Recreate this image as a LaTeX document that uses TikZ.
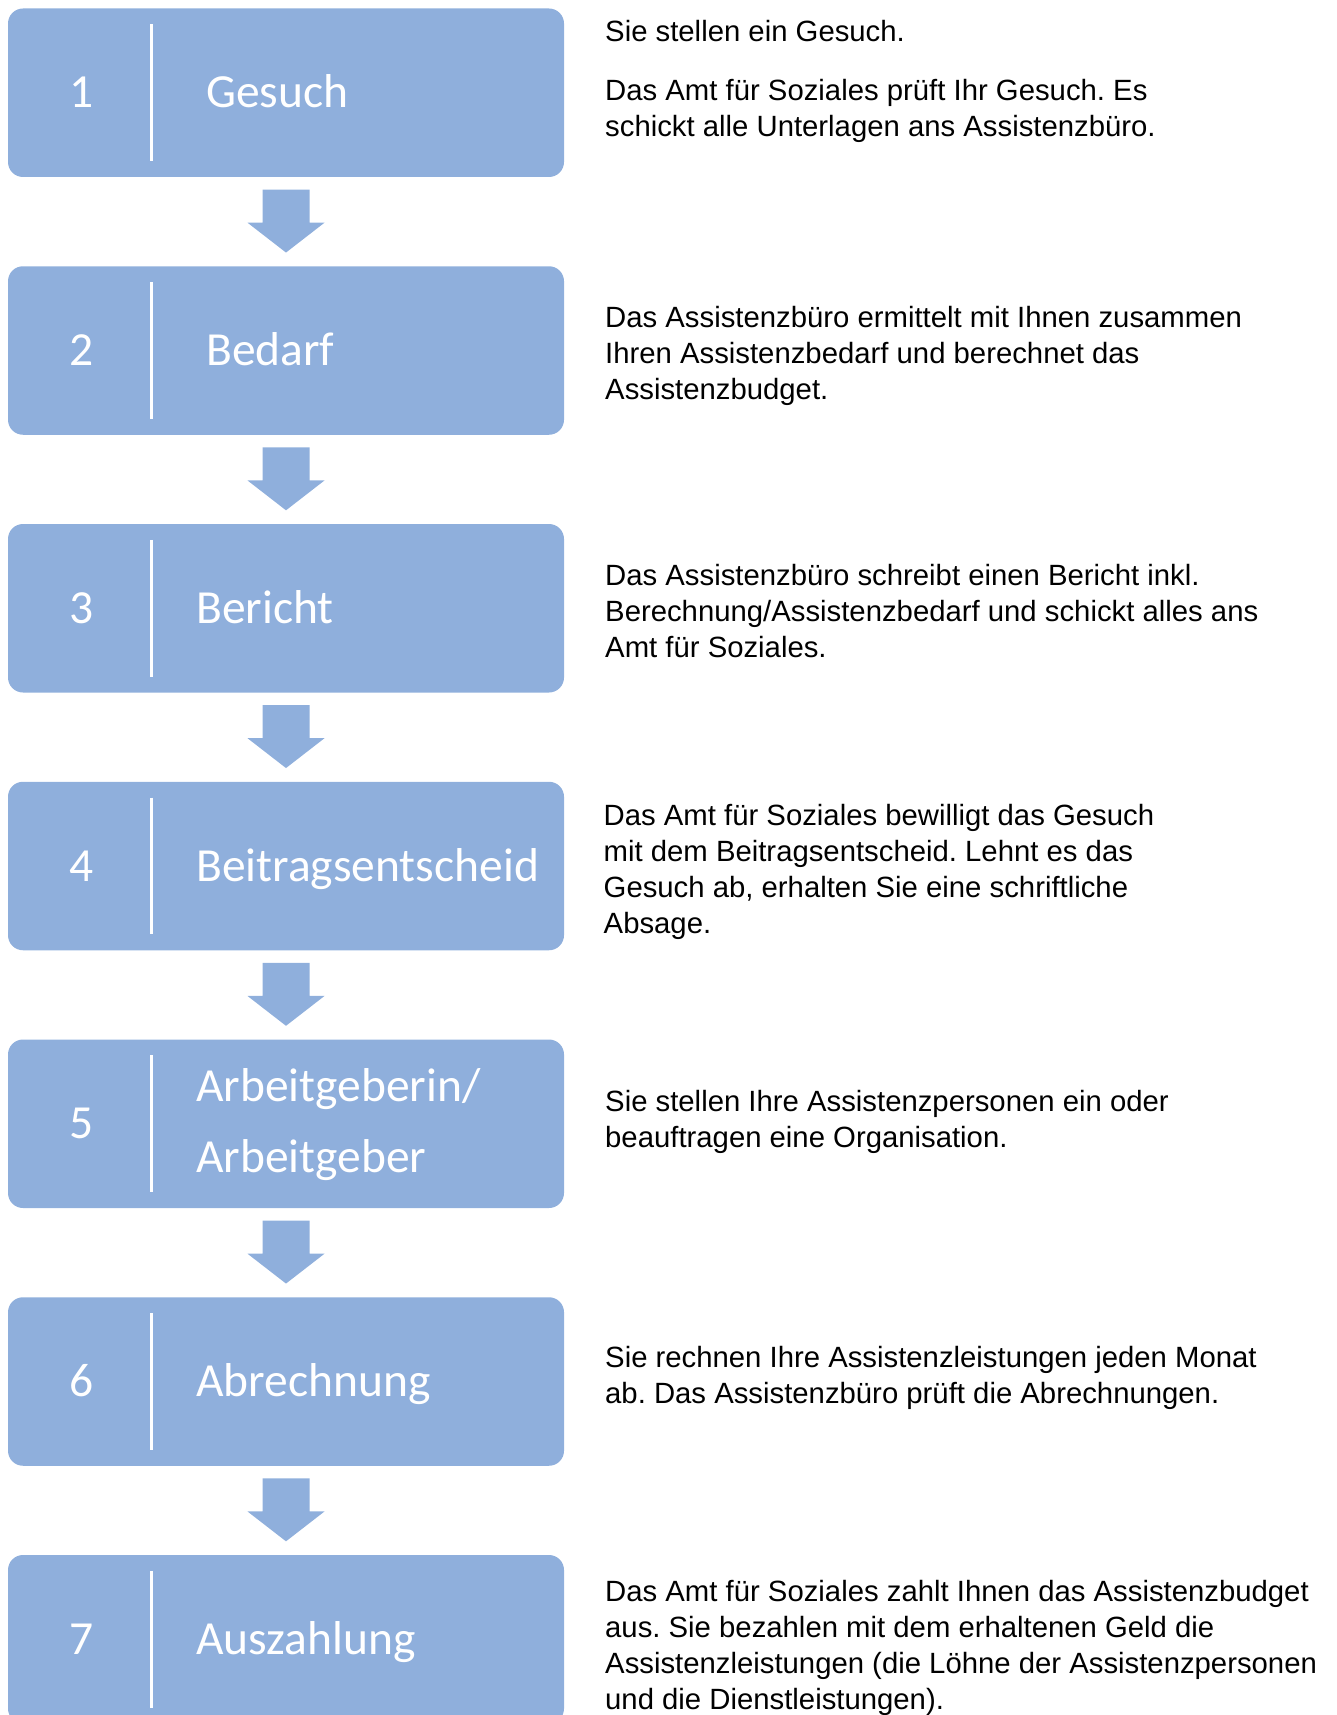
\documentclass[tikz,border=0pt]{standalone}
\usepackage{fontspec}
\usetikzlibrary{calc}
\newfontfamily\boxfont{Carlito}
\newfontfamily\descfont{Liberation Sans}
\definecolor{boxblue}{HTML}{8FAFDC}
\frenchspacing
\tikzset{
  stepbox/.style={fill=boxblue, draw=none, rounded corners=15pt, minimum width=556pt, minimum height=168.5pt, inner sep=0pt},
  numtext/.style={text=white, font=\boxfont\fontsize{47.5}{57}\selectfont, anchor=base, inner sep=0pt},
  labeltext/.style={text=white, font=\boxfont\fontsize{47.5}{57}\selectfont, anchor=base west, inner sep=0pt},
  desc/.style={text=black, font=\descfont\fontsize{29.3}{36}\selectfont, anchor=base west, inner sep=0pt},
  divider/.style={draw=white, line width=3pt},
  flowarrow/.style={fill=boxblue, draw=none}
}
\begin{document}
\begin{tikzpicture}[x=1pt,y=-1pt]
\useasboundingbox (0,0) rectangle (1336,1715);
\clip (0,0) rectangle (1336,1715);
% boxes
\node[stepbox] (b1) at (286,92.75) {};
\node[stepbox] (b2) at (286,350.5) {};
\node[stepbox] (b3) at (286,608.25) {};
\node[stepbox] (b4) at (286,866) {};
\node[stepbox] (b5) at (286,1123.75) {};
\node[stepbox] (b6) at (286,1381.5) {};
\node[stepbox] (b7) at (286,1639.25) {};
% dividers
\foreach \i in {1,...,7}{
  \draw[divider] ($(b\i.north west)+(144,16)$) -- ($(b\i.south west)+(144,-16)$);
}
% arrows
\foreach \i/\j in {1/2,2/3,3/4,4/5,5/6,6/7}{
  \fill[flowarrow] ($(b\i.south)+(-23.5,12.5)$) -- ($(b\i.south)+(23.5,12.5)$)
    -- ($(b\i.south)+(23.5,45.5)$) -- ($(b\i.south)+(38.5,45.5)$)
    -- ($(b\j.north)+(0,-13.5)$) -- ($(b\i.south)+(-38.5,45.5)$)
    -- ($(b\i.south)+(-23.5,45.5)$) -- cycle;
}
% numbers
\node[numtext] (n1) at (82,107.75) {1};
\node[numtext] (n2) at (82,365.5) {2};
\node[numtext] (n3) at (82,623.25) {3};
\node[numtext] (n4) at (82,881) {4};
\node[numtext] (n5) at (82,1138.75) {5};
\node[numtext] (n6) at (82,1396.5) {6};
\node[numtext] (n7) at (82,1654.25) {7};
% labels
\node[labeltext] (l1) at (206,107.75) {Gesuch};
\node[labeltext] (l2) at (206,365.5) {Bedarf};
\node[labeltext] (l3) at (196,623.25) {Bericht};
\node[labeltext] (l4) at (196,881) {Beitragsentscheid};
\node[labeltext] (l5a) at (196,1101.75) {Arbeitgeberin/};
\node[labeltext] (l5b) at (196,1172.75) {Arbeitgeber};
\node[labeltext] (l6) at (196,1396.5) {Abrechnung};
\node[labeltext] (l7) at (196,1654.25) {Auszahlung};
% descriptions
\node[desc] (d1a) at (605,42) {Sie stellen ein Gesuch.};
\node[desc] (d1b) at (605,100.5) {Das Amt für Soziales prüft Ihr Gesuch. Es};
\node[desc] (d1c) at (605,137) {schickt alle Unterlagen ans Assistenzbüro.};
\node[desc] (d2a) at (605,327.8) {Das Assistenzbüro ermittelt mit Ihnen zusammen};
\node[desc] (d2b) at (605,363.8) {Ihren Assistenzbedarf und berechnet das};
\node[desc] (d2c) at (605,399.8) {Assistenzbudget.};
\node[desc] (d3a) at (605,585) {Das Assistenzbüro schreibt einen Bericht inkl.};
\node[desc] (d3b) at (605,621) {Berechnung/Assistenzbedarf und schickt alles ans};
\node[desc] (d3c) at (605,657) {Amt für Soziales.};
\node[desc] (d4a) at (603.5,825.5) {Das Amt für Soziales bewilligt das Gesuch};
\node[desc] (d4b) at (603.5,861.5) {mit dem Beitragsentscheid. Lehnt es das};
\node[desc] (d4c) at (603.5,897.5) {Gesuch ab, erhalten Sie eine schriftliche};
\node[desc] (d4d) at (603.5,933.5) {Absage.};
\node[desc] (d5a) at (605,1111.3) {Sie stellen Ihre Assistenzpersonen ein oder};
\node[desc] (d5b) at (605,1147.4) {beauftragen eine Organisation.};
\node[desc] (d6a) at (605,1367.3) {Sie rechnen Ihre Assistenzleistungen jeden Monat};
\node[desc] (d6b) at (605,1403.5) {ab. Das Assistenzbüro prüft die Abrechnungen.};
\node[desc] (d7a) at (605,1601.5) {Das Amt für Soziales zahlt Ihnen das Assistenzbudget};
\node[desc] (d7b) at (605,1637.5) {aus. Sie bezahlen mit dem erhaltenen Geld die};
\node[desc] (d7c) at (605,1673.5) {Assistenzleistungen (die Löhne der Assistenzpersonen};
\node[desc] (d7d) at (605,1709.5) {und die Dienstleistungen).};
\end{tikzpicture}
\end{document}
